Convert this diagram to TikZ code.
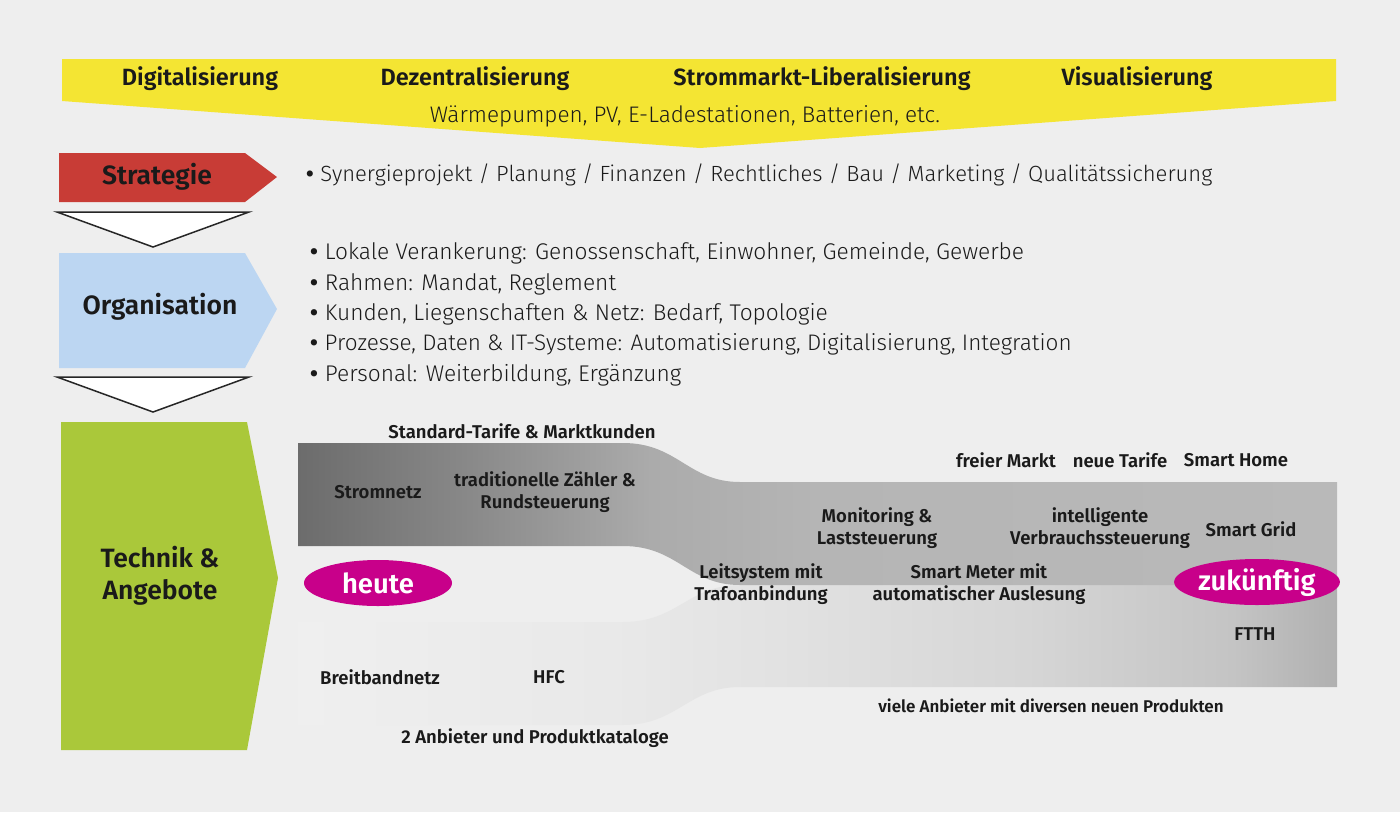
\documentclass[tikz,border=0pt]{standalone}
\usepackage{fontspec}
\setmainfont{Fira Sans}
\newfontfamily\lightfont{Fira Sans Light}
\newfontfamily\semifont{Fira Sans SemiBold}
\definecolor{bandA}{HTML}{6C6C6C}
\definecolor{bandB}{HTML}{888888}
\definecolor{bandC}{HTML}{ABABAB}
\definecolor{bandD}{HTML}{B5B5B5}
\definecolor{bandE}{HTML}{B9B9B9}
\definecolor{lowA}{HTML}{EFEFEF}
\definecolor{lowB}{HTML}{E9E9E9}
\definecolor{lowC}{HTML}{E2E2E2}
\definecolor{lowD}{HTML}{D6D6D6}
\definecolor{lowE}{HTML}{C4C4C4}
\definecolor{lowF}{HTML}{B0B0B0}
\definecolor{bgc}{HTML}{EEEEEE}
\definecolor{yel}{HTML}{F4E533}
\definecolor{redc}{HTML}{C83C36}
\definecolor{bluec}{HTML}{BCD6F2}
\definecolor{greenc}{HTML}{AAC83A}
\definecolor{mag}{HTML}{C8008A}
\definecolor{txt}{HTML}{1A1A1A}
\pgfdeclarehorizontalshading{upperband}{100bp}{color(0bp)=(bandA); color(25bp)=(bandA); color(33bp)=(bandB); color(42bp)=(bandC); color(50bp)=(bandD); color(75bp)=(bandE); color(100bp)=(bandE)}
\pgfdeclarehorizontalshading{lowerband}{100bp}{color(0bp)=(lowA); color(25bp)=(lowA); color(40bp)=(lowB); color(48bp)=(lowC); color(60bp)=(lowD); color(70bp)=(lowE); color(75bp)=(lowF); color(100bp)=(lowF)}
\usetikzlibrary{shapes.geometric}
\newcommand{\bul}{{\normalfont\bfseries •}\hspace{0.3em}}
\begin{document}
\begin{tikzpicture}[x=1pt,y=-1pt,
  head/.style={font=\semifont\fontsize{23.5}{26}\selectfont, text=txt, inner sep=0pt},
  blocklbl/.style={font=\semifont\fontsize{26.5}{32}\selectfont, text=txt, align=center, inner sep=0pt},
  lighttxt/.style={font=\lightfont\fontsize{22.7}{26}\selectfont, text=txt, inner sep=0pt},
  lbl/.style={font=\semifont\fontsize{18.5}{22}\selectfont, text=txt, align=center, inner sep=0pt},
  oval/.style={fill=mag, ellipse, minimum width=148pt, minimum height=46pt, inner sep=0pt, text=white, font=\semifont\fontsize{27.5}{28}\selectfont},
  tri/.style={fill=white, draw=black!85, line width=1.5pt, line join=miter}
]
\fill[bgc] (0,0) rectangle (1400,812);
\useasboundingbox (0,0) rectangle (1400,812);

% yellow banner
\fill[yel] (62,59) -- (1336,59) -- (1336,101) -- (700,148) -- (62,101) -- cycle;
\node[head] (dig) at (200,79) {Digitalisierung};
\node[head] (dez) at (475,79) {Dezentralisierung};
\node[head] (lib) at (822,79) {Strommarkt-Liberalisierung};
\node[head] (vis) at (1137,79) {Visualisierung};
\node[lighttxt, font=\lightfont\fontsize{22.5}{26}\selectfont] (waerme) at (685,116) {Wärmepumpen, PV, E-Ladestationen, Batterien, etc.};

% Strategie
\fill[redc] (59,153) -- (245,153) -- (277,177) -- (245,202) -- (59,202) -- cycle;
\node[blocklbl] (strat) at (157,177) {Strategie};
\node[lighttxt, anchor=west, font=\lightfont\fontsize{22}{26}\selectfont] (stratb) at (306,175) {\bul Synergieprojekt / Planung / Finanzen / Rechtliches / Bau / Marketing / Qualitätssicherung};

\draw[tri] (57,212) -- (249,212) -- (153,247) -- cycle;

% Organisation
\fill[bluec] (59,253) -- (245,253) -- (277,309) -- (245,368) -- (59,368) -- cycle;
\node[blocklbl] (org) at (160,307) {Organisation};
\node[lighttxt, anchor=west] (o1) at (310,253) {\bul Lokale Verankerung: Genossenschaft, Einwohner, Gemeinde, Gewerbe};
\node[lighttxt, anchor=west] (o2) at (310,284) {\bul Rahmen: Mandat, Reglement};
\node[lighttxt, anchor=west] (o3) at (310,314) {\bul Kunden, Liegenschaften \& Netz: Bedarf, Topologie};
\node[lighttxt, anchor=west, font=\lightfont\fontsize{22.5}{26}\selectfont] (o4) at (310,344) {\bul Prozesse, Daten \& IT-Systeme: Automatisierung, Digitalisierung, Integration};
\node[lighttxt, anchor=west] (o5) at (310,375) {\bul Personal: Weiterbildung, Ergänzung};

\draw[tri] (57,377) -- (249,377) -- (153,412) -- cycle;

% Technik
\fill[greenc] (61,422) -- (247,422) -- (278,578) -- (247,750) -- (61,750) -- cycle;
\node[blocklbl] (tech) at (160,576) {Technik \&\\Angebote};

% bands
\shade[shading=lowerband] (298,622) -- (623,622) .. controls (678,622) and (688,585) .. (740,585) -- (1337,585) -- (1337,687) -- (740,687) .. controls (688,687) and (678,725) .. (623,725) -- (298,725) -- cycle;
\shade[shading=upperband] (298,443) -- (623,443) .. controls (678,443) and (688,482) .. (740,482) -- (1337,482) -- (1337,585) -- (740,585) .. controls (688,585) and (678,546) .. (623,546) -- (298,546) -- cycle;

\node[lbl] (std) at (522,431) {Standard-Tarife \& Marktkunden};
\node[lbl] (strom) at (378,492) {Stromnetz};
\node[lbl] (trad) at (545,492) {traditionelle Zähler \&\\Rundsteuerung};
\node[oval] (heute) at (378,583) {heute};
\node[lbl] (leit) at (761,584) {Leitsystem mit\\Trafoanbindung};
\node[lbl] (moni) at (877,528) {Monitoring \&\\Laststeuerung};
\node[lbl] (smeter) at (979,584) {Smart Meter mit\\automatischer Auslesung};
\node[lbl] (intel) at (1100,528) {intelligente\\Verbrauchssteuerung};
\node[lbl] (sgrid) at (1251,529) {Smart Grid};
\node[lbl] (frei) at (1006,460) {freier Markt};
\node[lbl] (neue) at (1120,460) {neue Tarife};
\node[lbl] (shome) at (1236,460) {Smart Home};
\node[oval] (zuk) at (1257,582) {zukünftig};
\node[lbl] (ftth) at (1255,634) {FTTH};
\node[lbl] (breit) at (380,677) {Breitbandnetz};
\node[lbl] (hfc) at (549,677) {HFC};
\node[lbl] (zwei) at (535,738) {2 Anbieter und Produktkataloge};
\node[lbl, font=\semifont\fontsize{17}{20}\selectfont] (viele) at (1051,706) {viele Anbieter mit diversen neuen Produkten};
\end{tikzpicture}
\end{document}
